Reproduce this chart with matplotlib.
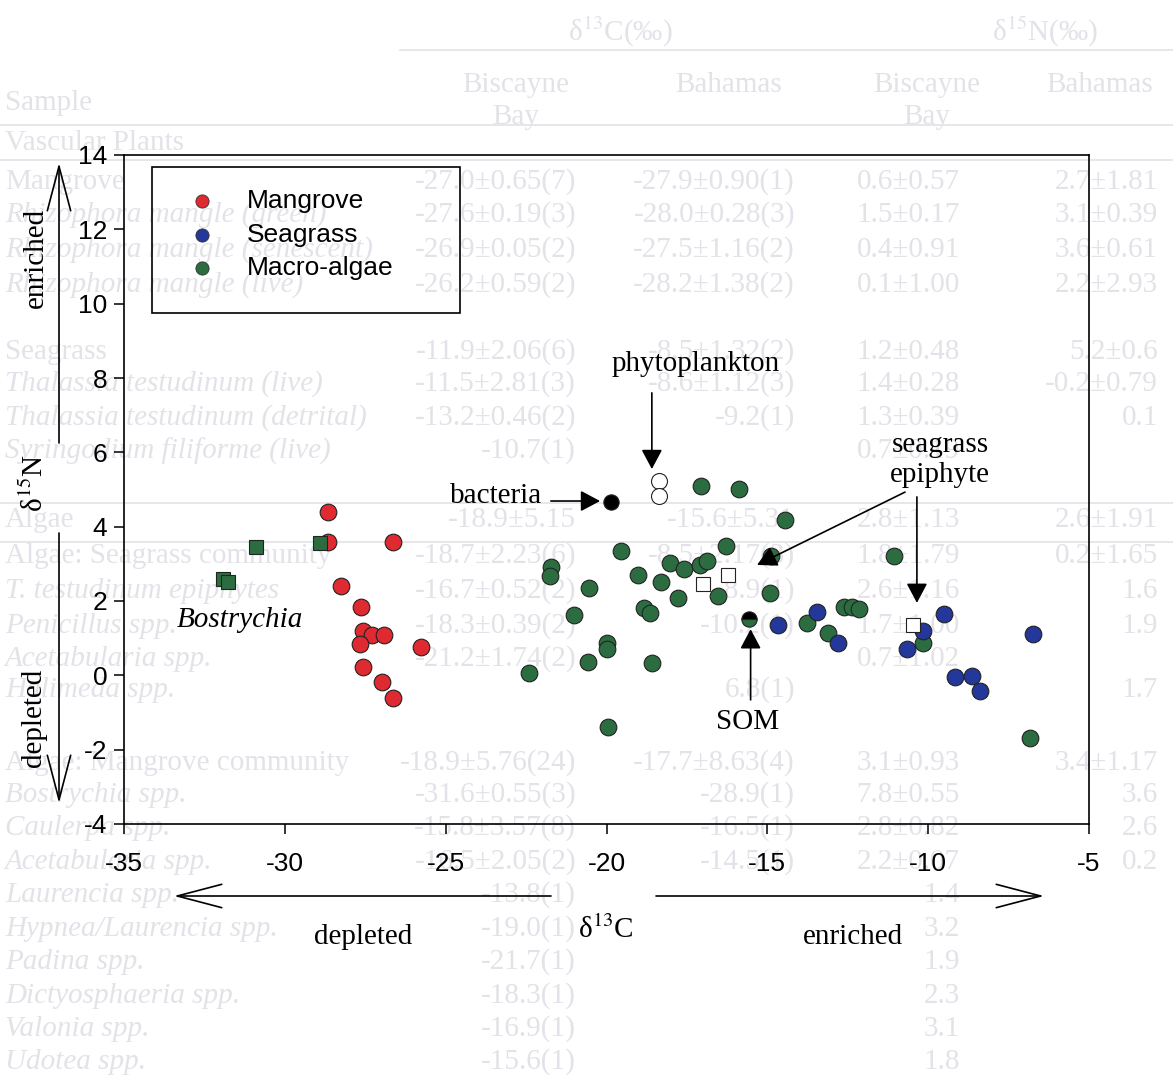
import matplotlib
matplotlib.use('Agg')
import matplotlib.pyplot as plt
from matplotlib.patches import Rectangle, FancyArrowPatch

###### DATA ##########
# delta 13C / delta 15N
mangrove_c = [-28.65, -28.65, -26.65, -28.26, -27.62, -27.58, -27.28, -26.92,
              -27.66, -25.78, -27.56, -26.97, -26.63]
mangrove_n = [4.40, 3.60, 3.60, 2.41, 1.85, 1.18, 1.09, 1.09,
              0.84, 0.77, 0.22, -0.17, -0.62]

seagrass_c = [-14.66, -13.47, -12.81, -10.15, -10.65, -9.51, -9.17, -8.63, -8.39, -6.75]
seagrass_n = [1.36, 1.71, 0.86, 1.18, 0.71, 1.64, -0.04, -0.02, -0.41, 1.11]

algae_c = [-17.05, -15.87, -14.45, -19.55, -16.29, -21.71, -21.76, -18.03, -17.58,
           -17.10, -16.89, -14.90, -19.01, -18.31, -20.54, -17.79, -16.53, -14.92,
           -18.84, -18.65, -21.01, -20.00, -19.98, -20.59, -18.58, -22.41, -19.95,
           -13.76, -13.11, -11.06, -12.62, -12.38, -12.14, -10.17, -6.82]
algae_n = [5.09, 5.01, 4.18, 3.35, 3.48, 2.91, 2.67, 3.02, 2.85,
           2.97, 3.08, 3.21, 2.70, 2.50, 2.34, 2.07, 2.14, 2.21,
           1.80, 1.67, 1.61, 0.88, 0.70, 0.35, 0.32, 0.07, -1.38,
           1.40, 1.15, 3.21, 1.85, 1.83, 1.78, 0.86, -1.69]

bostrychia_c = [-30.91, -28.91, -31.93, -31.76]
bostrychia_n = [3.46, 3.55, 2.58, 2.50]

bacteria_c, bacteria_n = [-19.86], [4.67]
phyto_c, phyto_n = [-18.36, -18.36], [5.22, 4.83]
epiphyte_c, epiphyte_n = [-16.99, -16.23, -10.46], [2.46, 2.70, 1.36]
som_c, som_n = [-15.56], [1.51]

series_labels = ['Mangrove', 'Seagrass', 'Macro-algae']
series_colors = ['#de2a30', '#24379a', '#2b6d40']

x_ticks = [-35, -30, -25, -20, -15, -10, -5]
y_ticks = [-4, -2, 0, 2, 4, 6, 8, 10, 12, 14]

# faint table showing through from the other side of the page
ghost_names = ['Mangrove', 'Rhizophora mangle (green)', 'Rhizophora mangle (senescent)',
               'Rhizophora mangle (live)', 'Seagrass', 'Thalassia testudinum (live)',
               'Thalassia testudinum (detrital)', 'Syringodium filiforme (live)',
               'Algae', 'Algae: Seagrass community', 'T. testudinum epiphytes',
               'Penicillus spp.', 'Acetabularia spp.', 'Halimeda spp.',
               'Algae: Mangrove community', 'Bostrychia spp.', 'Caulerpa spp.',
               'Acetabularia spp.', 'Laurencia spp.', 'Hypnea/Laurencia spp.',
               'Padina spp.', 'Dictyosphaeria spp.', 'Valonia spp.', 'Udotea spp.']
ghost_c_bb = ['-27.0±0.65(7)', '-27.6±0.19(3)', '-26.9±0.05(2)', '-26.2±0.59(2)',
              '-11.9±2.06(6)', '-11.5±2.81(3)', '-13.2±0.46(2)', '-10.7(1)',
              '-18.9±5.15', '-18.7±2.23(6)', '-16.7±0.52(2)', '-18.3±0.39(2)',
              '-21.2±1.74(2)', '', '-18.9±5.76(24)', '-31.6±0.55(3)', '-15.8±3.57(8)',
              '-16.5±2.05(2)', '-13.8(1)', '-19.0(1)', '-21.7(1)', '-18.3(1)',
              '-16.9(1)', '-15.6(1)']
ghost_c_bh = ['-27.9±0.90(1)', '-28.0±0.28(3)', '-27.5±1.16(2)', '-28.2±1.38(2)',
              '-8.5±1.32(2)', '-8.6±1.12(3)', '-9.2(1)', '',
              '-15.6±5.31', '-8.5±2.17(3)', '-8.9(1)', '-10.2(1)',
              '', '6.8(1)', '-17.7±8.63(4)', '-28.9(1)', '-16.5(1)',
              '-14.5(1)', '', '', '', '', '', '']
ghost_n_bb = ['0.6±0.57', '1.5±0.17', '0.4±0.91', '0.1±1.00', '1.2±0.48', '1.4±0.28',
              '1.3±0.39', '0.7±0.19', '2.8±1.13', '1.8±1.79', '2.6±1.16', '1.7±1.00',
              '0.7±1.02', '', '3.1±0.93', '7.8±0.55', '2.8±0.82', '2.2±0.07',
              '1.4', '3.2', '1.9', '2.3', '3.1', '1.8']
ghost_n_bh = ['2.7±1.81', '3.1±0.39', '3.6±0.61', '2.2±2.93', '5.2±0.6', '-0.2±0.79',
              '0.1', '', '2.6±1.91', '0.2±1.65', '1.6', '1.9',
              '', '1.7', '3.4±1.17', '3.6', '2.6', '0.2',
              '', '', '', '', '', '']
ghost_italic = [False, True, True, True, False, True, True, True, False, False, True, True,
                True, True, False, True, True, True, True, True, True, True, True, True]
ghost_y = [182, 215, 250, 285, 352, 384, 418, 451, 520, 556, 591, 626, 659, 690,
           763, 795, 828, 862, 895, 929, 962, 996, 1029, 1062]
#########################

W, H = 1173, 1075
plt.rcParams['axes.unicode_minus'] = False
plt.rcParams['mathtext.fontset'] = 'stix'
SANS = 'Liberation Sans'
SERIF = 'Liberation Serif'


def fpx(x, y):
    # pixel position (from top-left) -> figure fraction
    return x / W, 1 - y / H


fig = plt.figure(figsize=(W / 100, H / 100), dpi=100)
fig.patch.set_facecolor('white')

# ghost table behind everything
gcol = '#e2e2e8'
gkw = dict(family=SERIF, fontsize=21, color=gcol, va='center', zorder=-2)
fig.text(*fpx(620, 32), 'δ$^{13}$C(‰)', ha='center', **gkw)
fig.text(*fpx(1045, 32), 'δ$^{15}$N(‰)', ha='center', **gkw)
for hx, lab in [(516, 'Biscayne\nBay'), (729, 'Bahamas'), (927, 'Biscayne\nBay'), (1100, 'Bahamas')]:
    fig.text(*fpx(hx, 72), lab, ha='center', va='top', family=SERIF, fontsize=21,
             color=gcol, zorder=-2, linespacing=1.3)
fig.text(*fpx(5, 103), 'Sample', ha='left', **gkw)
fig.text(*fpx(5, 143), 'Vascular Plants', ha='left', **gkw)
for ly, lx0 in [(50, 400), (125, 0), (160, 0), (503, 0), (542, 0)]:
    fig.add_artist(plt.Line2D([lx0 / W, 1], [1 - ly / H] * 2, color=gcol, lw=1.2, zorder=-2))
for name, c1, c2, n1, n2, it, gy in zip(ghost_names, ghost_c_bb, ghost_c_bh,
                                        ghost_n_bb, ghost_n_bh, ghost_italic, ghost_y):
    fig.text(*fpx(5, gy), name, ha='left', style='italic' if it else 'normal', **gkw)
    fig.text(*fpx(576, gy), c1, ha='right', **gkw)
    fig.text(*fpx(795, gy), c2, ha='right', **gkw)
    fig.text(*fpx(960, gy), n1, ha='right', **gkw)
    fig.text(*fpx(1158, gy), n2, ha='right', **gkw)

ax = fig.add_axes([124 / W, 1 - 824 / H, 965 / W, 669 / H])
ax.patch.set_alpha(0)
ax.set_xlim(-35, -5)
ax.set_ylim(-4, 14)
ax.set_xticks(x_ticks)
ax.set_yticks(y_ticks)
ax.set_xticklabels([str(t) for t in x_ticks], family=SANS, fontsize=19)
ax.set_yticklabels([str(t) for t in y_ticks], family=SANS, fontsize=19)
ax.tick_params(axis='x', direction='out', length=7, width=1.1, pad=13)
ax.tick_params(axis='y', direction='out', length=7, width=1.1, pad=5)
for sp in ax.spines.values():
    sp.set_linewidth(1.2)

mk = dict(ls='', mec='#222222', mew=0.8, zorder=3)
ax.plot(algae_c, algae_n, marker='o', ms=12, mfc=series_colors[2], **mk)
ax.plot(seagrass_c, seagrass_n, marker='o', ms=12, mfc=series_colors[1], **mk)
ax.plot(mangrove_c, mangrove_n, marker='o', ms=12, mfc=series_colors[0], **mk)
ax.plot(bostrychia_c, bostrychia_n, marker='s', ms=10.5, mfc=series_colors[2], **mk)
ax.plot(bacteria_c, bacteria_n, marker='o', ms=11, mfc='black', **mk)
ax.plot(phyto_c, phyto_n, marker='o', ms=11.5, mfc='white', **mk)
ax.plot(epiphyte_c, epiphyte_n, marker='s', ms=9.5, mfc='white', **mk)
ax.plot(som_c, som_n, marker='o', ms=11, fillstyle='top', mfc='black',
        mfcalt=series_colors[2], **mk)

# legend drawn by hand to keep the wide box
ax.add_patch(Rectangle((0.029, 0.764), 0.319, 0.218, transform=ax.transAxes,
                       fill=False, ec='black', lw=1.2, zorder=4))
for i, (lab, col) in enumerate(zip(series_labels, series_colors)):
    ly = 0.931 - i * 0.05
    ax.plot([0.081], [ly], marker='o', ms=9.5, mfc=col, mec='#333333', mew=0.6,
            transform=ax.transAxes, zorder=5)
    ax.text(0.1275, ly, lab, transform=ax.transAxes, family=SANS, fontsize=19,
            va='center', ha='left', zorder=5)

# labels and arrows inside the plot
tkw = dict(family=SERIF, fontsize=21, ha='center', va='center')
head = dict(arrowstyle='-|>,head_length=0.6,head_width=0.32', mutation_scale=20,
            color='black', lw=1.2, shrinkA=0, shrinkB=0)
ax.text(-17.22, 8.38, 'phytoplankton', **tkw)
ax.annotate('', xy=(-18.59, 5.55), xytext=(-18.59, 7.60), arrowprops=head)
ax.text(-23.44, 4.83, 'bacteria', **tkw)
ax.annotate('', xy=(-20.20, 4.69), xytext=(-21.73, 4.69), arrowprops=head)
ax.text(-9.63, 5.79, 'seagrass\nepiphyte', linespacing=1.2, **tkw)
ax.annotate('', xy=(-15.32, 2.97), xytext=(-10.72, 4.93), arrowprops=head)
ax.annotate('', xy=(-10.35, 1.95), xytext=(-10.35, 4.80), arrowprops=head)
ax.text(-15.60, -1.25, 'SOM', **tkw)
ax.annotate('', xy=(-15.52, 1.24), xytext=(-15.52, -0.66), arrowprops=head)
ax.text(-31.39, 1.49, 'Bostrychia', style='italic', **tkw)

# direction arrows outside the axes
open_head = dict(arrowstyle='->,head_length=1.6,head_width=0.42', mutation_scale=20,
                 color='black', lw=1.2, shrinkA=0, shrinkB=0)
for tip, tail in [((59, 163), (59, 443)), ((59, 803), (59, 533)),
                  ((174, 896), (551, 896)), ((1044, 896), (656, 896))]:
    fig.add_artist(FancyArrowPatch(fpx(*tail), fpx(*tip),
                                   transform=fig.transFigure, **open_head))

fig.text(*fpx(36, 258), 'enriched', rotation=90, **tkw)
fig.text(*fpx(35, 483), 'δ$^{15}$N', rotation=90, **tkw)
fig.text(*fpx(34, 718), 'depleted', rotation=90, **tkw)
fig.text(*fpx(363, 937), 'depleted', **tkw)
fig.text(*fpx(606, 930), 'δ$^{13}$C', **tkw)
fig.text(*fpx(853, 937), 'enriched', **tkw)

fig.savefig('out.png', dpi=100)
